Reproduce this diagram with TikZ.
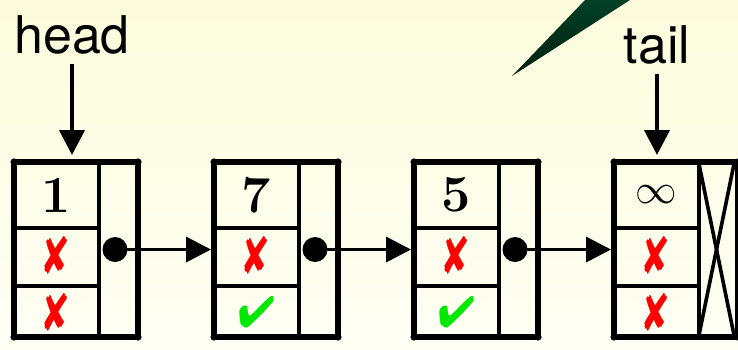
\documentclass[tikz,border=0pt]{standalone}
\usepackage{amsmath}
\usepackage{xcolor}
\usepackage{graphicx}
\usepackage{pifont}
\usepackage{fontspec}
\setsansfont{TeX Gyre Heros}
\usetikzlibrary{arrows.meta}

\definecolor{crossred}{RGB}{255,0,0}
\definecolor{checkgreen}{RGB}{0,232,0}
\definecolor{bgtop}{RGB}{252,252,220}
\definecolor{bgbottom}{RGB}{254,254,244}
\definecolor{wedgetop}{RGB}{0,64,38}
\definecolor{wedgetip}{RGB}{0,30,16}

\newcommand{\nomark}{\textcolor{crossred}{\scalebox{0.85}[1.2]{\ding{56}}}}
\newcommand{\yesmark}{\textcolor{checkgreen}{\ding{52}}}

\begin{document}
\begin{tikzpicture}[
      x=0.5pt, y=-0.5pt,
      listbox/.style={draw, line width=3pt, line join=round, minimum width=62pt,
                      minimum height=87.5pt, inner sep=0pt},
      cell/.style={line width=1.8pt},
      keytext/.style={font=\fontsize{26}{26}\selectfont\bfseries, inner sep=0pt},
      flag/.style={font=\fontsize{22}{22}\selectfont, inner sep=0pt},
      nodedot/.style={circle, fill, inner sep=0pt, minimum size=12.5pt},
      link/.style={line width=1.8pt, -{Triangle[length=12.5pt,width=12.5pt]}},
      ptr/.style={link, line width=2pt, shorten <=3pt, shorten >=2pt},
      ptrlabel/.style={font=\sffamily\fontsize{26}{26}\selectfont, inner sep=2pt, anchor=base}
    ]
    \useasboundingbox[top color=bgtop, bottom color=bgbottom] (0,0) rectangle (738,349);
    \shade[top color=wedgetop, bottom color=wedgetip] (585,0) -- (630,0) -- (512,76) -- cycle;

    % list nodes: key, two flags
    \foreach \i/\key/\fa/\fb [evaluate=\i as \x using 14+200*(\i-1)] in
        {1/1/\nomark/\nomark, 2/7/\nomark/\yesmark, 3/5/\nomark/\yesmark,
         4/{\mdseries\fontsize{21}{21}\selectfont$\infty$}/\nomark/\nomark} {
      \node[listbox] (b\i) at (\x+62,249.5) {};
      \foreach \cx/\cy in {0/162, 124/162, 0/337, 124/337}
        \fill (\x+\cx,\cy) circle (1.8pt);
      \draw[cell] (\x+85,162) -- (\x+85,337);
      \draw[cell] (\x,228) -- (\x+85,228);
      \draw[cell] (\x,286) -- (\x+85,286);
      \node[keytext] (k\i) at (\x+42.5,195) {\key};
      \node[flag] (fa\i) at (\x+42.5,255) {\fa};
      \node[flag] (fb\i) at (\x+42.5,312) {\fb};
    }

    % next pointers
    \node[nodedot] (d1) at (115,249.5) {};
    \node[nodedot] (d2) at (315,249.5) {};
    \node[nodedot] (d3) at (515,249.5) {};
    \draw[link] (d1.center) -- (b2.west);
    \draw[link] (d2.center) -- (b3.west);
    \draw[link] (d3.center) -- (b4.west);

    % null pointer of the last node
    \draw[cell] (699,164) -- (734,335);
    \draw[cell] (734,164) -- (699,335);

    \node[ptrlabel] (head) at (72,53) {head};
    \node[ptrlabel] (tail) at (657,63) {tail};
    \draw[ptr] (head.south) -- (head.south |- b1.north);
    \draw[ptr] (tail.south) -- (tail.south |- b4.north);
    \end{tikzpicture}
\end{document}
